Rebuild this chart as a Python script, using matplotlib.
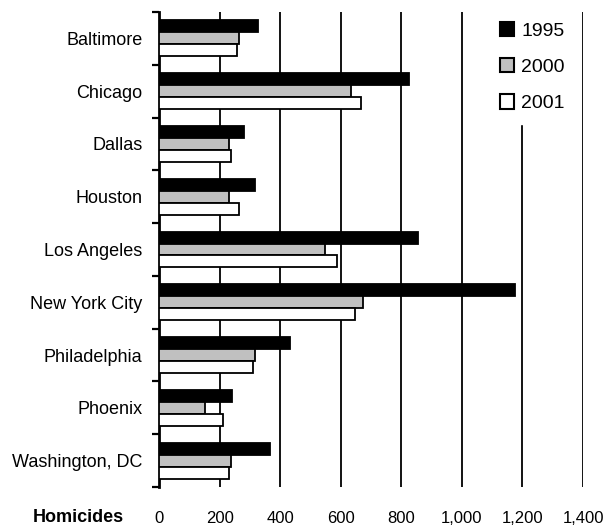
import matplotlib
matplotlib.use("Agg")
import matplotlib.pyplot as plt
from matplotlib.patches import Patch
from matplotlib.ticker import FuncFormatter
import numpy as np

plt.rcParams['font.family'] = ['Liberation Sans', 'DejaVu Sans']

cities = ["Baltimore", "Chicago", "Dallas", "Houston", "Los Angeles",
          "New York City", "Philadelphia", "Phoenix", "Washington, DC"]
years = ["1995", "2000", "2001"]
h1995 = [327, 826, 280, 318, 855, 1177, 432, 240, 366]
h2000 = [264, 634, 232, 232, 549, 675, 318, 152, 239]
h2001 = [258, 667, 238, 264, 589, 648, 312, 212, 232]
series = [h1995, h2000, h2001]
colors = ["#000000", "#c0c0c0", "#ffffff"]
xticks = [0, 200, 400, 600, 800, 1000, 1200, 1400]

fig = plt.figure(figsize=(6.05, 5.27), dpi=100)
ax = fig.add_axes([159/605, 40/527, (583-159)/605, (487-12)/527])

y = np.arange(len(cities))
bh = 0.227
for k, (vals, c) in enumerate(zip(series, colors)):
    ax.barh(y + (k - 1) * bh, vals, height=bh, color=c, edgecolor="black",
            linewidth=1.3, zorder=3)

ax.set_xlim(0, 1400)
ax.set_ylim(len(cities) - 0.5, -0.5)
ax.set_xticks(xticks)
ax.xaxis.set_major_formatter(FuncFormatter(lambda v, p: f"{int(v):,}"))
ax.tick_params(axis="x", length=0, pad=17, labelsize=12)
ax.xaxis.grid(True, color="black", linewidth=1.3, zorder=0)
ax.set_axisbelow(True)

ax.set_yticks(np.arange(len(cities) + 1) - 0.5)
ax.set_yticklabels([])
ax.set_yticks(y, minor=True)
ax.set_yticklabels(cities, minor=True)
ax.tick_params(axis="y", which="major", length=5, width=1.6, direction="out")
ax.tick_params(axis="y", which="minor", length=0, pad=12, labelsize=13)

for s in ["top", "right", "bottom"]:
    ax.spines[s].set_visible(False)
ax.spines["left"].set_linewidth(2)

handles = [Patch(facecolor=c, edgecolor="black", linewidth=1.5) for c in colors]
leg = ax.legend(handles, years, loc="upper left",
                bbox_to_anchor=(488/605, 1 - 10/527), bbox_transform=fig.transFigure,
                frameon=True, fontsize=14, handlelength=0.75, handleheight=0.75,
                handletextpad=0.35, labelspacing=0.95, borderpad=0.6,
                borderaxespad=0)
leg.get_frame().set_edgecolor("white")
leg.get_frame().set_facecolor("white")
leg.get_frame().set_alpha(1)
leg.set_zorder(5)

fig.text(78/605, 1 - 517/527, "Homicides", ha="center", va="center",
         fontsize=13, fontweight="bold")

fig.savefig("out.png", dpi=100, facecolor="white")
